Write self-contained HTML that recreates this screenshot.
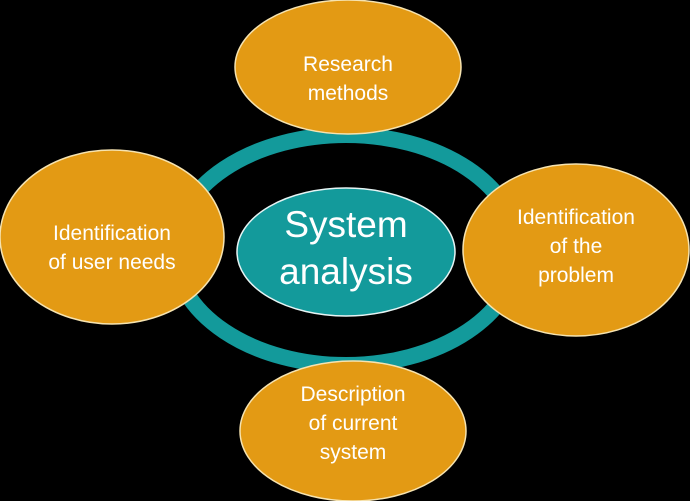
<!DOCTYPE html>
<html><head><meta charset="utf-8"><style>
html,body{margin:0;padding:0;background:#000;}
svg{display:block}
text{font-family:"Liberation Sans",sans-serif;fill:#fff;text-anchor:middle}
</style></head><body>
<svg width="690" height="501" viewBox="0 0 690 501">
<rect width="690" height="501" fill="#000"/>
<ellipse cx="346" cy="250" rx="172" ry="115" fill="none" stroke="#139A9B" stroke-width="16"/>
<g fill="#E39A14" stroke="#F6E3B0" stroke-width="1.5">
<ellipse cx="348" cy="67" rx="113" ry="67"/>
<ellipse cx="112" cy="237" rx="112" ry="87"/>
<ellipse cx="576" cy="250" rx="113" ry="86"/>
<ellipse cx="353" cy="431" rx="113" ry="70"/>
</g>
<ellipse cx="346" cy="252" rx="109" ry="64" fill="#139A9B" stroke="#E6F4F4" stroke-width="1.5"/>
<g font-size="21">
<text x="348" y="71">Research</text>
<text x="348" y="100">methods</text>
<text x="112" y="240">Identification</text>
<text x="112" y="269">of user needs</text>
<text x="576" y="224">Identification</text>
<text x="576" y="253">of the</text>
<text x="576" y="282">problem</text>
<text x="353" y="401">Description</text>
<text x="353" y="430">of current</text>
<text x="353" y="459">system</text>
</g>
<g font-size="37">
<text x="346" y="237">System</text>
<text x="346" y="284">analysis</text>
</g>
</svg>
</body></html>
